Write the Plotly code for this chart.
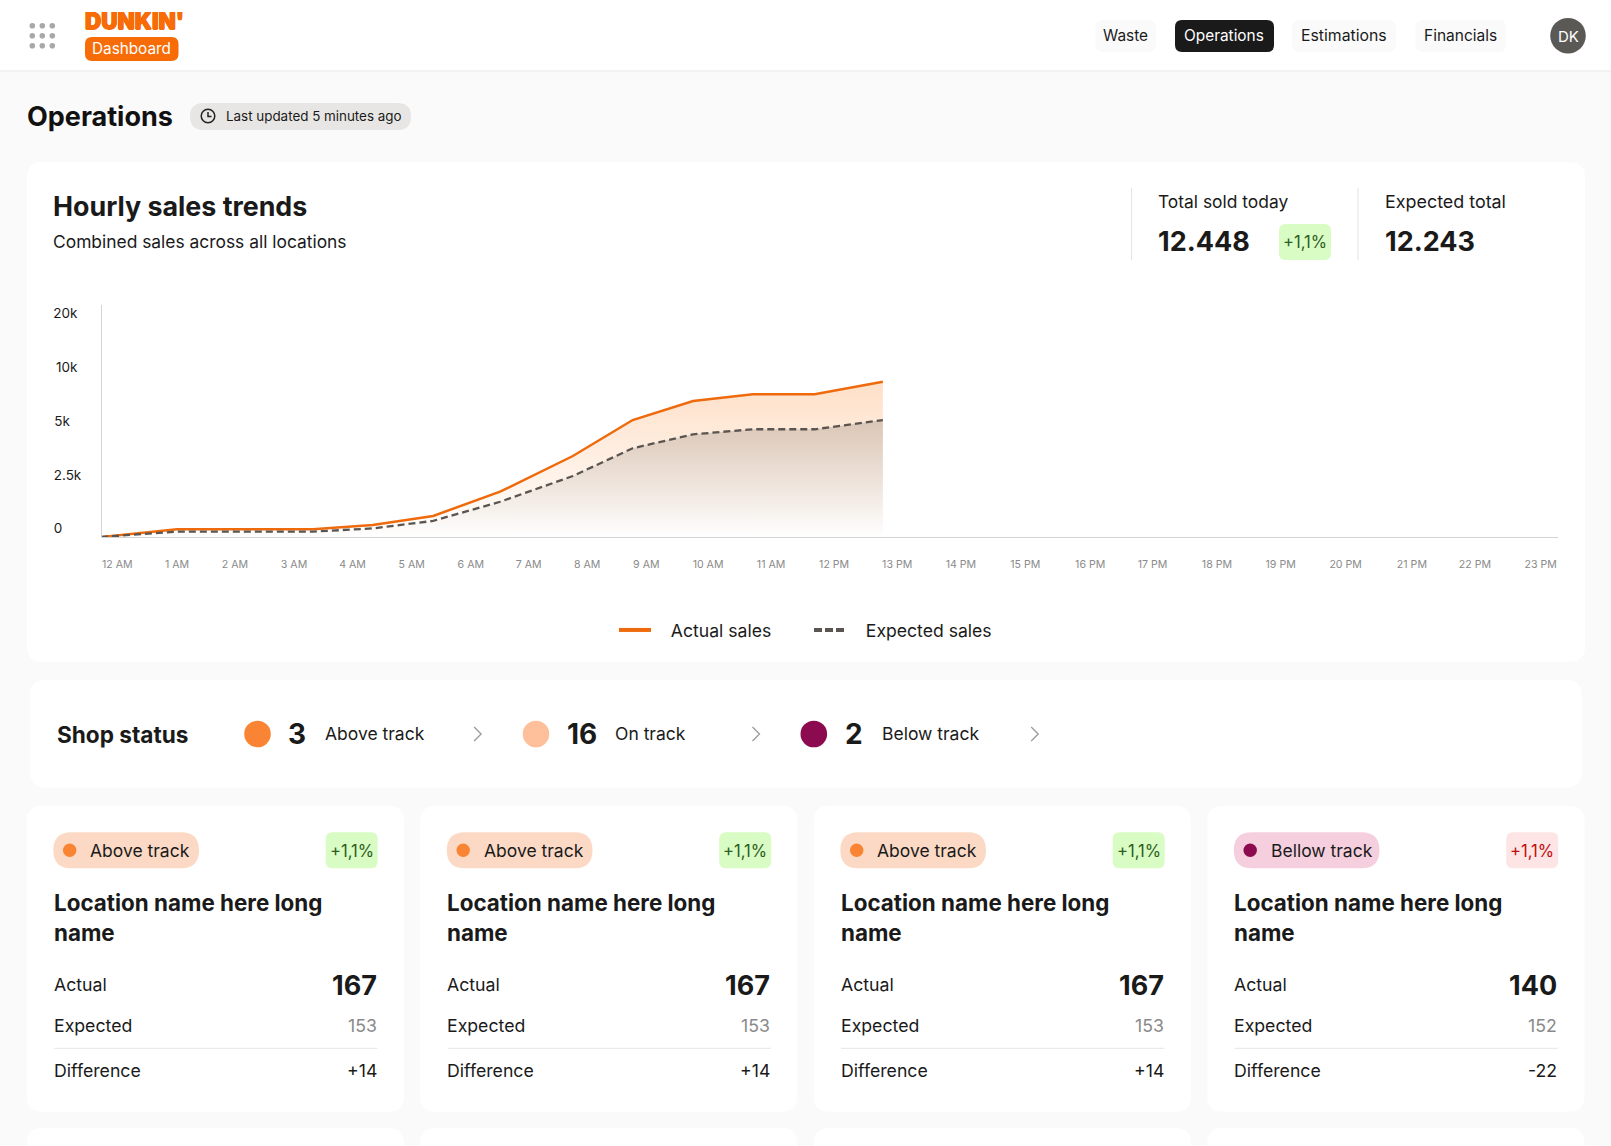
import numpy as np
import plotly.graph_objects as go

W, H = 1611, 1146
FONT = "Inter"

# chart data
sample_hours = [0, 1.17, 2.22, 3.26, 4.18, 5.11, 6.14, 7.26, 8.18, 9.11, 10.03, 10.98, 12.03]
actual_sales = [0, 360, 360, 360, 560, 980, 2110, 3770, 5890, 7660, 8290, 8290, 9460]
expected_sales = [0, 250, 250, 250, 400, 750, 1640, 2840, 4130, 4780, 5030, 5030, 5890]
hour_labels = ["12 AM", "1 AM", "2 AM", "3 AM", "4 AM", "5 AM", "6 AM", "7 AM", "8 AM", "9 AM",
               "10 AM", "11 AM", "12 PM", "13 PM", "14 PM", "15 PM", "16 PM", "17 PM", "18 PM",
               "19 PM", "20 PM", "21 PM", "22 PM", "23 PM"]
hour_ticks = [0.25, 1.17, 2.06, 2.97, 3.87, 4.78, 5.69, 6.58, 7.48, 8.39, 9.34, 10.31, 11.28,
              12.25, 13.23, 14.22, 15.22, 16.18, 17.17, 18.15, 19.15, 20.17, 21.14, 22.15]
sales_ticks = [0, 2500, 5000, 10000, 20000]
# trailing nbsp keeps the labels flush left like the original
sales_tick_labels = ["0\u00a0\u00a0\u00a0\u00a0\u00a0", "2.5k", "5k\u00a0\u00a0\u00a0", "10k\u00a0", "20k\u00a0"]

# location cards
card_status = ["Above track", "Above track", "Above track", "Bellow track"]
card_actual = ["167", "167", "167", "140"]
card_expected = ["153", "153", "153", "152"]
card_difference = ["+14", "+14", "+14", "-22"]
card_change = ["+1,1%", "+1,1%", "+1,1%", "+1,1%"]

# shop status row
status_counts = ["3", "16", "2"]
status_names = ["Above track", "On track", "Below track"]

shapes = []
notes = []


def fx(x):
    return x / W


def fy(y):
    return 1 - y / H


def rrect(x0, y0, x1, y1, r, fill):
    p = (f"M{fx(x0 + r)},{fy(y0)} L{fx(x1 - r)},{fy(y0)} Q{fx(x1)},{fy(y0)} {fx(x1)},{fy(y0 + r)} "
         f"L{fx(x1)},{fy(y1 - r)} Q{fx(x1)},{fy(y1)} {fx(x1 - r)},{fy(y1)} "
         f"L{fx(x0 + r)},{fy(y1)} Q{fx(x0)},{fy(y1)} {fx(x0)},{fy(y1 - r)} "
         f"L{fx(x0)},{fy(y0 + r)} Q{fx(x0)},{fy(y0)} {fx(x0 + r)},{fy(y0)} Z")
    shapes.append(dict(type="path", path=p, xref="paper", yref="paper", fillcolor=fill,
                       line=dict(width=0), layer="below"))


def dot(cx, cy, r, fill, outline=None, width=0):
    shapes.append(dict(type="circle", xref="paper", yref="paper",
                       x0=fx(cx - r), x1=fx(cx + r), y0=fy(cy + r), y1=fy(cy - r),
                       fillcolor=fill, layer="below",
                       line=dict(width=width, color=outline or fill)))


def seg(pts, color, width):
    p = "M" + " L".join(f"{fx(a)},{fy(b)}" for a, b in pts)
    shapes.append(dict(type="path", path=p, xref="paper", yref="paper",
                       line=dict(color=color, width=width), layer="below"))


def label(x, y, s, size, color="#1a1a1a", weight=400, anchor="left", shadow=None):
    # annotations sit about 2px inside their anchor
    x = x + {"left": -1.8, "right": 1.8, "center": 0}[anchor]
    font = dict(family=FONT, size=size, color=color, weight=weight)
    if shadow:
        font["shadow"] = shadow
    notes.append(dict(x=fx(x), y=fy(y), xref="paper", yref="paper", text=s, showarrow=False,
                      xanchor=anchor, yanchor="middle", borderpad=0, font=font))


# header
rrect(-20, -20, W + 20, 70.5, 0, "#ffffff")
seg([(0, 71), (W, 71)], "#efefef", 1.5)
for cx in [32.3, 42.3, 52.3]:
    for cy in [25.7, 35.7, 45.7]:
        dot(cx, cy, 2.8, "#a8a8a8")
label(85.5, 20, "DUNKIN'", 22.5, "#f76c06", 900,
      shadow="0.5px 0 0 #f76c06, -0.5px 0 0 #f76c06, 0 0.5px 0 #f76c06, 0 -0.5px 0 #f76c06")
rrect(85, 37, 178.5, 61, 7, "#f76c06")
label(131.7, 48, "Dashboard", 15.3, "#ffffff", 400, "center")

rrect(1095.5, 20, 1156, 52, 7, "#fafafa")
label(1125, 35.5, "Waste", 15.4, anchor="center")
rrect(1175, 20, 1274, 52, 7, "#1a1a1a")
label(1224, 35.5, "Operations", 15.4, "#ffffff", anchor="center")
rrect(1292, 20, 1396, 52, 7, "#fafafa")
label(1344, 35.5, "Estimations", 15.8, anchor="center")
rrect(1415.5, 20, 1506, 52, 7, "#fafafa")
label(1460.7, 35.5, "Financials", 15.5, anchor="center")
dot(1568, 35.7, 17.8, "#5a5955")
label(1568, 36.5, "DK", 15, "#ffffff", anchor="center")

# page title
label(27.5, 116, "Operations", 27, "#111111", 700)
rrect(190, 103, 411, 130, 13.5, "#e8e6e4")
dot(208, 116, 6.8, "rgba(0,0,0,0)", "#222222", 1.5)
seg([(208, 112), (208, 116.5), (211.5, 116.5)], "#222222", 1.5)
label(226.5, 116, "Last updated 5 minutes ago", 13.4)

# trend card
rrect(27, 162, 1585, 662, 16, "#ffffff")
label(54, 205.5, "Hourly sales trends", 26.8, weight=700)
label(54, 241.5, "Combined sales across all locations", 17.4)
seg([(1131.6, 188), (1131.6, 260)], "#e3e3e3", 1)
seg([(1358, 188), (1358, 260)], "#e3e3e3", 1)
label(1158.5, 201, "Total sold today", 17.4)
label(1158.5, 241.7, "12.448", 27, weight=700)
rrect(1279, 224, 1331, 260, 7, "#d9fbc4")
label(1305, 242, "+1,1%", 16.6, "#2e5e22", anchor="center")
label(1386, 201, "Expected total", 17.9)
label(1386, 241.7, "12.243", 27, weight=700)

# shop status card
rrect(30, 680, 1582, 787.5, 16, "#ffffff")
label(57.5, 734, "Shop status", 22.6, weight=700)
status_x = [(257.5, 297, 326, 477.6, "#f98534"), (536, 582, 615.5, 756, "#fdc09a"), (813.8, 853.6, 882.5, 1034.7, "#8b0a50")]
for (dx, nx, tx, cx, col), n, name in zip(status_x, status_counts, status_names):
    dot(dx, 734, 13.3, col)
    label(nx, 734, n, 28, weight=700, anchor="center")
    label(tx, 733.5, name, 17.5)
    seg([(cx - 3.5, 727), (cx + 3.5, 734), (cx - 3.5, 741)], "#9a9a9a", 1.3)

# location cards
for i in range(4):
    off = 393.5 * i
    below = card_status[i].startswith("Bellow")
    rrect(26.7 + off, 805.7, 404 + off, 1111.7, 16, "#ffffff")
    rrect(53.3 + off, 832.3, 199 + off, 868.3, 18, "#f6cfdf" if below else "#fbd9c4")
    dot(69.7 + off, 850.3, 6.7, "#8b0a50" if below else "#f98534")
    label(91 + off, 850.5, card_status[i], 17.5)
    rrect(325.7 + off, 832.3, 377.7 + off, 868.3, 7, "#fee5e5" if below else "#d9fbc4")
    label(351.7 + off, 850.8, card_change[i], 16.6, "#c00e0e" if below else "#2e5e22", anchor="center")
    label(54.3 + off, 902.7, "Location name here long", 22.4, weight=700)
    label(54.3 + off, 932.7, "name", 22.4, weight=700)
    label(54.3 + off, 984.5, "Actual", 17.7)
    label(376 + off, 985, card_actual[i], 27, weight=700, anchor="right")
    label(54.3 + off, 1025.5, "Expected", 17.7)
    label(376 + off, 1025.5, card_expected[i], 17.7, "#8a8a8a", anchor="right")
    seg([(54 + off, 1048.3), (377.5 + off, 1048.3)], "#e5e5e5", 1)
    label(54.3 + off, 1070.7, "Difference", 17.7)
    label(376 + off, 1070.7, card_difference[i], 17.7, anchor="right")
    rrect(26.7 + off, 1128, 404 + off, 1180, 16, "#ffffff")

# the sales axis has evenly spaced ticks that double, so plot on the tick index
tick_index = np.arange(len(sales_ticks))
to_index = lambda v: np.interp(v, sales_ticks, tick_index)

fig = go.Figure()
fig.add_trace(go.Scatter(
    x=sample_hours, y=to_index(actual_sales), name="Actual sales", mode="lines",
    line=dict(color="#ee6a0c", width=2.5), fill="tozeroy", showlegend=False,
    fillgradient=dict(type="vertical", start=0, stop=2.9,
                      colorscale=[[0, "rgba(252,150,70,0)"], [1, "rgba(252,150,70,0.3)"]])))
fig.add_trace(go.Scatter(
    x=sample_hours, y=to_index(expected_sales), name="Expected sales", mode="lines",
    line=dict(color="#5a5550", width=2.3, dash="7px,4px"), fill="tozeroy", showlegend=False,
    fillgradient=dict(type="vertical", start=0, stop=2.2,
                      colorscale=[[0, "rgba(90,80,70,0)"], [1, "rgba(90,80,70,0.22)"]])))
fig.add_trace(go.Scatter(x=[None], y=[None], mode="lines", name="\u00a0\u00a0\u00a0Actual sales",
                         line=dict(color="#ee6a0c", width=4)))
fig.add_trace(go.Scatter(x=[None], y=[None], mode="lines", name="\u00a0\u00a0\u00a0Expected sales",
                         line=dict(color="#5a5550", width=4, dash="8px,3px")))

fig.update_layout(
    width=W, height=H, autosize=False,
    margin=dict(l=0, r=0, t=0, b=0, autoexpand=False),
    paper_bgcolor="#fafafa", plot_bgcolor="rgba(0,0,0,0)",
    shapes=shapes, annotations=notes, hovermode=False,
    legend=dict(orientation="h", x=fx(614), y=fy(630), xanchor="left", yanchor="middle",
                font=dict(family=FONT, size=17.6, color="#1a1a1a"), bgcolor="rgba(0,0,0,0)",
                itemwidth=32, entrywidth=148, entrywidthmode="pixels",
                itemclick=False, itemdoubleclick=False),
    xaxis=dict(domain=[fx(102), fx(1557.5)], range=[0.015, 22.41], tickvals=hour_ticks, ticktext=hour_labels,
               showgrid=False, zeroline=False, showline=True, linecolor="#d4d4d4", linewidth=1,
               ticks="", ticklabelstandoff=17, tickangle=0,
               tickfont=dict(family=FONT, size=10.6, color="#8a8a8a")),
    yaxis=dict(domain=[fy(537), fy(305)], range=[0, 4.32], tickvals=list(tick_index),
               ticktext=sales_tick_labels, showgrid=False, zeroline=False, showline=True,
               linecolor="#d4d4d4", linewidth=1, ticks="", ticklabelposition="outside top",
               ticklabelstandoff=17, ticklabelshift=1,
               tickfont=dict(family=FONT, size=13.5, color="#1a1a1a")),
)

fig.write_html("out.html", post_script="document.body.style.margin='0';", config=dict(displayModeBar=False))
